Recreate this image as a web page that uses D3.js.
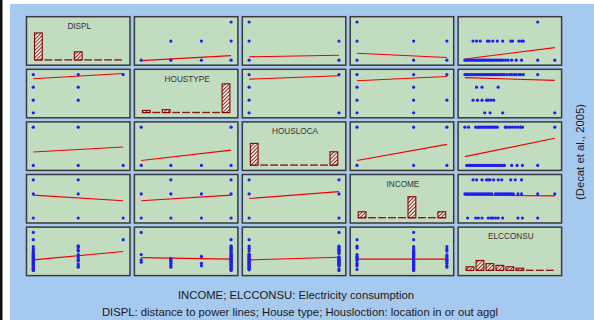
<!DOCTYPE html>
<html><head><meta charset="utf-8">
<script src="https://cdn.jsdelivr.net/npm/d3@7"></script>
<style>body{margin:0;background:#fff}svg{display:block}</style>
</head><body>
<svg id="chart" width="594" height="320"></svg>
<script>
// ---------------- DATA ----------------
const variables = ["DISPL", "HOUSTYPE", "HOUSLOCA", "INCOME", "ELCCONSU"];

// histogram bar heights (% of observations), 9 bins per variable
const histDISPL    = [77, 0, 0, 0, 23, 0, 0, 0, 1];
const histHOUSTYPE = [6, 0, 8, 0, 0, 1, 0, 0, 82];
const histHOUSLOCA = [62, 0, 0, 0, 0, 0, 0, 0, 38];
const histINCOME   = [17, 0, 0, 0, 0, 60, 0, 0, 17];
const histELCCONSU = [10, 28, 19, 14, 10, 6, 1, 0, 1];

// observed combinations of the coded variables (values rescaled to 0..1)
const pairDISPL_HOUSTYPE = [[0,0],[0,0.33],[0,0.67],[0,1],[0.5,0.33],[0.5,0.67],[0.5,1],[1,1]];
const pairDISPL_HOUSLOCA = [[0,0],[0,1],[0.5,0],[0.5,1],[1,0]];
const pairDISPL_INCOME   = [[0,0],[0,0.63],[0,1],[0.5,0],[0.5,0.63],[0.5,1],[1,0]];
const pairHOUSTYPE_HOUSLOCA = [[0,0],[0,1],[0.33,0],[0.67,0],[1,0],[1,1]];
const pairHOUSTYPE_INCOME   = [[0,0],[0,0.63],[0.33,0],[0.33,0.63],[0.33,1],[0.67,0],[0.67,0.63],[1,0],[1,0.63],[1,1]];
const pairHOUSLOCA_INCOME   = [[0,0],[0,0.63],[0,1],[1,0],[1,0.63],[1,1]];

// ELCCONSU values (rescaled 0..1) observed for each level of the coded variables
const elcByDISPL = [
  [0,   [0,0.02,0.04,0.06,0.08,0.1,0.12,0.14,0.16,0.18,0.2,0.22,0.24,0.26,0.28,0.3,0.32,0.34,0.36,0.38,0.4,0.42,0.45,0.48,0.52,0.57,0.63,0.81,1]],
  [0.5, [0.09,0.13,0.17,0.25,0.27,0.31,0.36,0.42,0.51,0.53,0.6,0.63,0.65]],
  [1,   [0.81]]
];
const elcByHOUSTYPE = [
  [0,    [0.22,0.28,0.42,1]],
  [0.33, [0.09,0.14,0.19,0.24,0.26,0.29,0.32]],
  [0.67, [0.13,0.19,0.37]],
  [1,    [0,0.02,0.04,0.06,0.08,0.1,0.12,0.14,0.16,0.18,0.2,0.22,0.24,0.26,0.28,0.3,0.32,0.34,0.36,0.38,0.4,0.42,0.44,0.47,0.5,0.52,0.55,0.57,0.6,0.62,0.65,0.81]]
];
const elcByHOUSLOCA = [
  [0, [0.02,0.04,0.06,0.08,0.1,0.12,0.14,0.16,0.18,0.2,0.22,0.24,0.26,0.28,0.3,0.32,0.34,0.36,0.38,0.4,0.42,0.44,0.52,0.58,0.64,0.81]],
  [1, [0,0.04,0.12,0.14,0.16,0.18,0.2,0.22,0.24,0.26,0.28,0.3,0.32,0.34,0.36,0.45,0.47,0.5,0.53,0.56,0.59,0.62,0.64,1]]
];
const elcByINCOME = [
  [0,    [0.03,0.12,0.15,0.19,0.26,0.29,0.31,0.34,0.37,0.42,0.59,0.64,0.81]],
  [0.63, [0,0.02,0.04,0.06,0.08,0.1,0.12,0.14,0.16,0.18,0.2,0.22,0.24,0.26,0.28,0.3,0.34,0.36,0.38,0.4,0.42,0.44,0.46,0.48,0.5,0.52,0.54,0.59,0.63,0.81,1]],
  [1,    [0.09,0.13,0.19,0.24,0.26,0.28,0.32,0.37,0.41,0.51,0.56,0.63]]
];

// fitted regression line: y value (0..1) at x = 0 and x = 1; rows = y variable, cols = x variable
const fitLines = [
  [null, [-0.01,0.12], [0.09,0.13], [0.18,0.07], [0.03,0.33]],
  [[0.89,1.03], null, [0.88,0.97], [0.84,0.95], [0.92,0.85]],
  [[0.35,0.48], [0.13,0.40], null, [0.13,0.55], [0.23,0.71]],
  [[0.60,0.45], [0.45,0.60], [0.51,0.69], null, [0.60,0.58]],
  [[0.28,0.50], [0.34,0.30], [0.28,0.35], [0.30,0.30], null]
];

const captionLines = ["INCOME; ELCCONSU: Electricity consumption",
  "DISPL: distance to power lines; House type; Housloction: location in or out aggl"];
const sourceNote = "(Decat et al., 2005)";

// ---------------- BUILD POINT SETS ----------------
const hists = [histDISPL, histHOUSTYPE, histHOUSLOCA, histINCOME, histELCCONSU];
const pairs = {};
function addPair(i, j, list) { pairs[i + "_" + j] = list; pairs[j + "_" + i] = list.map(d => [d[1], d[0]]); }
addPair(0, 1, pairDISPL_HOUSTYPE);
addPair(0, 2, pairDISPL_HOUSLOCA);
addPair(0, 3, pairDISPL_INCOME);
addPair(1, 2, pairHOUSTYPE_HOUSLOCA);
addPair(1, 3, pairHOUSTYPE_INCOME);
addPair(2, 3, pairHOUSLOCA_INCOME);
function expand(groups) { const out = []; groups.forEach(g => g[1].forEach(v => out.push([g[0], v]))); return out; }
addPair(0, 4, expand(elcByDISPL));
addPair(1, 4, expand(elcByHOUSTYPE));
addPair(2, 4, expand(elcByHOUSLOCA));
addPair(3, 4, expand(elcByINCOME));

// ---------------- DRAW ----------------
const svg = d3.select("#chart");
const font = "'Liberation Sans', Arial, Helvetica, sans-serif";

svg.append("rect").attr("x", 0).attr("y", 0).attr("width", 594).attr("height", 320).attr("fill", "#ffffff");
svg.append("rect").attr("x", 10).attr("y", 4).attr("width", 584).attr("height", 316).attr("fill", "#a6c9ef");
svg.append("rect").attr("x", 0).attr("y", 0).attr("width", 2.5).attr("height", 320).attr("fill", "#111");

const defs = svg.append("defs");
const pat = defs.append("pattern").attr("id", "hatch").attr("patternUnits", "userSpaceOnUse")
  .attr("width", 2.6).attr("height", 2.6).attr("patternTransform", "rotate(45)");
pat.append("rect").attr("width", 2.6).attr("height", 2.6).attr("fill", "#f2eadc");
pat.append("line").attr("x1", 0).attr("y1", 0).attr("x2", 0).attr("y2", 2.6)
  .attr("stroke", "#6e0000").attr("stroke-width", 1.5);

const colBand = d3.scaleBand().domain(d3.range(5)).range([26.5, 561.6]).paddingInner(0.041).paddingOuter(0);
const rowBand = d3.scaleBand().domain(d3.range(5)).range([16.7, 275.6]).paddingInner(0.078).paddingOuter(0);

for (let r = 0; r < 5; r++) {
  for (let c = 0; c < 5; c++) {
    const x0 = colBand(c), w = colBand.bandwidth();
    const y0 = rowBand(r), h = rowBand.bandwidth();
    const g = svg.append("g");
    g.append("rect").attr("x", x0).attr("y", y0).attr("width", w).attr("height", h)
      .attr("fill", "#c2dcc0").attr("stroke", "#3a3a3a").attr("stroke-width", 1.5);

    if (r === c) {
      const bins = hists[r].map((v, i) => ({ bin: i, value: v }));
      const bx = d3.scaleBand().domain(d3.range(bins.length)).range([x0 + 8, x0 + w - 8]).paddingInner(0.22);
      const by = d3.scaleLinear().domain([0, 100]).range([0, 35]);
      const base = y0 + h - 5.3;
      g.selectAll("line.dash").data(bins).enter().append("line")
        .attr("x1", d => bx(d.bin)).attr("x2", d => bx(d.bin) + bx.bandwidth())
        .attr("y1", base).attr("y2", base).attr("stroke", "#8b1a1a").attr("stroke-width", 1.4);
      g.selectAll("rect.bar").data(bins.filter(d => by(d.value) >= 1)).enter().append("rect")
        .attr("x", d => bx(d.bin)).attr("width", bx.bandwidth())
        .attr("y", d => base - by(d.value)).attr("height", d => by(d.value))
        .attr("fill", "url(#hatch)").attr("stroke", "#8b0000").attr("stroke-width", 1.1);
      g.append("text").attr("x", x0 + w / 2 + 1).attr("y", y0 + 12.3).attr("text-anchor", "middle")
        .attr("font-family", font).attr("font-size", 8.2).attr("fill", "#333").text(variables[r]);
    } else {
      const sx = d3.scaleLinear().domain([0, 1]).range([x0 + 6.8, x0 + w - 6.8]);
      const sy = d3.scaleLinear().domain([0, 1]).range([y0 + h - 5, y0 + 5.3]);
      const pts = pairs[c + "_" + r];
      const fit = fitLines[r][c];
      g.append("line").attr("x1", sx(0)).attr("x2", sx(1)).attr("y1", sy(fit[0])).attr("y2", sy(fit[1]))
        .attr("stroke", "#ee0000").attr("stroke-width", 1.1);
      g.selectAll("circle").data(pts).enter().append("circle")
        .attr("cx", d => sx(d[0])).attr("cy", d => sy(d[1])).attr("r", 1.6)
        .attr("fill", "#1f1fef");
    }
  }
}

svg.append("text").attr("x", 296).attr("y", 299).attr("text-anchor", "middle")
  .attr("font-family", font).attr("font-size", 11.3).attr("fill", "#1a1a1a").text(captionLines[0]);
svg.append("text").attr("x", 300).attr("y", 316).attr("text-anchor", "middle")
  .attr("font-family", font).attr("font-size", 11.3).attr("fill", "#1a1a1a").text(captionLines[1]);
svg.append("text").attr("transform", "translate(584,152) rotate(-90)").attr("text-anchor", "middle")
  .attr("font-family", font).attr("font-size", 11.3).attr("fill", "#1a1a1a").text(sourceNote);
</script>
</body></html>
